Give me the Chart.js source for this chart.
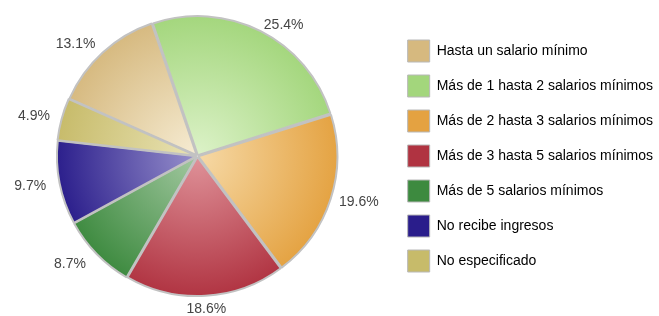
<!DOCTYPE html>
<html>
<head>
<meta charset="utf-8">
<script src="https://cdn.jsdelivr.net/npm/chart.js@4"></script>
<style>
  html, body { margin: 0; padding: 0; background: #fff; }
  #wrap { width: 659px; height: 316px; }
</style>
</head>
<body>
<div id="wrap"><canvas id="pieChart" width="659" height="316"></canvas></div>
<script>
// Data
const categories = [
    'Hasta un salario mínimo',
    'Más de 1 hasta 2 salarios mínimos',
    'Más de 2 hasta 3 salarios mínimos',
    'Más de 3 hasta 5 salarios mínimos',
    'Más de 5 salarios mínimos',
    'No recibe ingresos',
    'No especificado'
];
const percents = [13.1, 25.4, 19.6, 18.6, 8.7, 9.7, 4.9];

// Colours: solid (legend / slice rim) and light (slice centre)
const solidColors = ['#d6b97f', '#a3d67c', '#e4a241', '#b03341', '#3d8a3f', '#2a1d8b', '#c7bb6a'];
const lightColors = ['#f6ecd3', '#dcf2c8', '#f6d9a6', '#df9299', '#a2c8a0', '#9790cc', '#e9e3b5'];

// radial gradient per slice, lighter toward the centre
function sliceFill(context) {
    const chart = context.chart;
    const i = context.dataIndex;
    const area = chart.chartArea;
    if (!area || i === undefined) return solidColors[i] || '#ccc';
    const cx = (area.left + area.right) / 2;
    const cy = (area.top + area.bottom) / 2;
    const r = Math.min(area.width, area.height) / 2;
    const g = chart.ctx.createRadialGradient(cx, cy, 0, cx, cy, r);
    g.addColorStop(0, lightColors[i]);
    g.addColorStop(1, solidColors[i]);
    return g;
}

// percent labels outside the pie
const outsideLabels = {
    id: 'outsideLabels',
    afterDatasetsDraw(chart) {
        const ctx = chart.ctx;
        const meta = chart.getDatasetMeta(0);
        ctx.save();
        ctx.font = '14px "Liberation Sans", Arial, sans-serif';
        ctx.fillStyle = '#454545';
        ctx.textBaseline = 'middle';
        meta.data.forEach((arc, i) => {
            const p = arc.getProps(['x', 'y', 'startAngle', 'endAngle', 'outerRadius'], true);
            const mid = (p.startAngle + p.endAngle) / 2;
            const c = Math.cos(mid), s = Math.sin(mid);
            const r = p.outerRadius + 8 + 6 * Math.max(0, s) + 6 * Math.max(0, -c);
            ctx.textAlign = c > 0.25 ? 'left' : (c < -0.25 ? 'right' : 'center');
            ctx.fillText(percents[i].toFixed(1) + '%', p.x + c * r, p.y + s * r);
        });
        ctx.restore();
    }
};

const ctx = document.getElementById('pieChart').getContext('2d');
const pieChart = new Chart(ctx, {
    type: 'pie',
    data: {
        labels: categories,
        datasets: [{
            data: percents,
            backgroundColor: sliceFill,
            borderColor: '#c2c2c2',
            borderWidth: 2,
            offset: 4
        }]
    },
    options: {
        responsive: false,
        animation: false,
        rotation: -66,
        layout: { padding: { top: 14, bottom: 18, left: 0, right: -4 } },
        plugins: {
            tooltip: { enabled: false },
            legend: {
                position: 'right',
                align: 'center',
                labels: {
                    boxWidth: 22,
                    boxHeight: 22,
                    padding: 13,
                    color: '#444',
                    font: { family: '"Liberation Sans", Arial, sans-serif', size: 14 },
                    generateLabels(chart) {
                        return categories.map((c, i) => ({
                            text: c,
                            fillStyle: solidColors[i],
                            strokeStyle: '#b8b8b8',
                            lineWidth: 1,
                            index: i
                        }));
                    }
                }
            }
        }
    },
    plugins: [outsideLabels]
});
</script>
</body>
</html>
